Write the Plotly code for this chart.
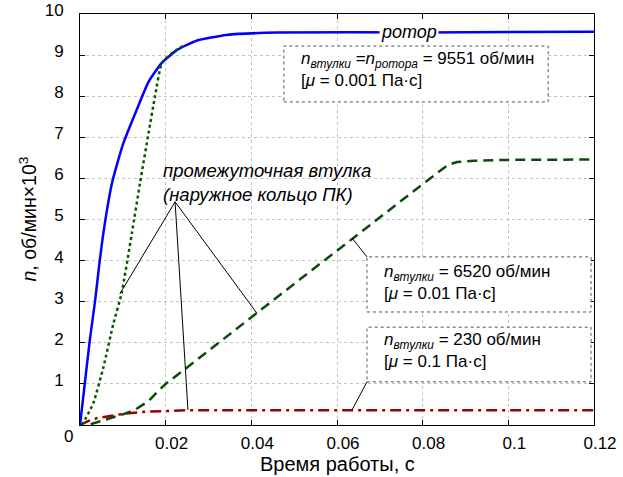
import plotly.graph_objects as go

# Rotor speed (x10^3 rpm) vs running time (s)
rotor_t = [0, 0.0005, 0.001, 0.0023, 0.0035, 0.0045, 0.0055, 0.0075, 0.0101, 0.0132,
           0.016, 0.019, 0.0226, 0.0272, 0.0342, 0.046, 0.08, 0.12]
rotor_n = [0, 0.45, 0.9, 2.07, 3.0, 3.9, 4.7, 5.9, 6.85, 7.66,
           8.35, 8.8, 9.12, 9.35, 9.49, 9.55, 9.55, 9.57]

# Intermediate sleeve, mu = 0.001 Pa*s (catches up with the rotor)
sleeve1_t = [0.0005, 0.0031, 0.0055, 0.0078, 0.0097, 0.0121, 0.014, 0.016, 0.0175, 0.0191, 0.0215, 0.0245]
sleeve1_n = [0, 0.53, 1.42, 2.47, 3.2, 4.66, 5.88, 7.1, 7.99, 8.8, 9.05, 9.25]

# Intermediate sleeve, mu = 0.01 Pa*s
sleeve2_t = [0.0025, 0.005, 0.01, 0.013, 0.016, 0.018, 0.02, 0.025, 0.03, 0.035, 0.04, 0.045,
             0.05, 0.055, 0.06, 0.065, 0.07, 0.075, 0.08, 0.084, 0.086, 0.088, 0.092, 0.1, 0.12]
sleeve2_n = [0.02, 0.1, 0.26, 0.38, 0.58, 0.8, 1.0, 1.4, 1.81, 2.22, 2.62, 3.03,
             3.43, 3.84, 4.24, 4.65, 5.05, 5.46, 5.86, 6.18, 6.33, 6.4, 6.43, 6.45, 6.46]

# Intermediate sleeve, mu = 0.1 Pa*s
sleeve3_t = [0, 0.002, 0.004, 0.007, 0.01, 0.015, 0.02, 0.025, 0.12]
sleeve3_n = [0, 0.1, 0.17, 0.22, 0.27, 0.32, 0.34, 0.36, 0.36]

x_ticks = [0.02, 0.04, 0.06, 0.08, 0.1, 0.12]
x_tick_text = ["0.02", "0.04", "0.06", "0.08", "0.1", "0.12"]
y_ticks = [1, 2, 3, 4, 5, 6, 7, 8, 9, 10]

FONT = "Liberation Sans, Arial, sans-serif"

fig = go.Figure()
fig.add_trace(go.Scatter(x=sleeve3_t, y=sleeve3_n, mode="lines",
                         line=dict(color="#990000", width=2.5, dash="11px,5px,3px,5px")))
fig.add_trace(go.Scatter(x=sleeve2_t, y=sleeve2_n, mode="lines",
                         line=dict(color="#0b4a0b", width=2.5, dash="10px,6px")))
fig.add_trace(go.Scatter(x=rotor_t, y=rotor_n, mode="lines",
                         line=dict(color="#0000ff", width=2.5, shape="spline", smoothing=0.5)))
fig.add_trace(go.Scatter(x=sleeve1_t, y=sleeve1_n, mode="lines",
                         line=dict(color="#005a00", width=2.5, dash="dot",
                                   shape="spline", smoothing=0.5)))

# Info boxes with dotted borders
boxes = [
    (0.0476, 0.1093, 7.86, 9.22),
    (0.0670, 0.1193, 2.75, 4.09),
    (0.0670, 0.1193, 1.05, 2.38),
]
for x0, x1, y0, y1 in boxes:
    fig.add_shape(type="rect", xref="x", yref="y", x0=x0, x1=x1, y0=y0, y1=y1,
                  line=dict(color="#555555", width=1, dash="dot"),
                  fillcolor="white", layer="above")

# Leader lines
leaders = [
    (0.0670, 4.09, 0.0635, 4.55),
    (0.0670, 1.05, 0.0635, 0.365),
    (0.0222, 5.43, 0.0093, 3.19),
    (0.0222, 5.43, 0.0252, 0.365),
    (0.0222, 5.43, 0.0413, 2.72),
]
for x0, y0, x1, y1 in leaders:
    fig.add_shape(type="line", xref="x", yref="y", x0=x0, y0=y0, x1=x1, y1=y1,
                  line=dict(color="black", width=1), layer="above")

ann_font = dict(family=FONT, size=17, color="black")
fig.add_annotation(x=0.0511, y=8.64, xref="x", yref="y", xanchor="left", yanchor="middle",
                   text="<i>n</i><sub><i>втулки</i></sub> =<i>n</i><sub><i>ротора</i></sub> = 9551 об/мин<br>[<i>μ</i> = 0.001 Па·с]",
                   showarrow=False, align="left", font=ann_font)
fig.add_annotation(x=0.0705, y=3.47, xref="x", yref="y", xanchor="left", yanchor="middle",
                   text="<i>n</i><sub><i>втулки</i></sub> = 6520 об/мин<br>[<i>μ</i> = 0.01 Па·с]",
                   showarrow=False, align="left", font=ann_font)
fig.add_annotation(x=0.0705, y=1.82, xref="x", yref="y", xanchor="left", yanchor="middle",
                   text="<i>n</i><sub><i>втулки</i></sub> = 230 об/мин<br>[<i>μ</i> = 0.1 Па·с]",
                   showarrow=False, align="left", font=ann_font)
fig.add_annotation(x=0.0768, y=9.55, xref="x", yref="y", xanchor="center", yanchor="middle",
                   text="<i>ротор</i>", showarrow=False, bgcolor="white",
                   font=dict(family=FONT, size=18, color="black"))
fig.add_annotation(x=0.0188, y=5.9, xref="x", yref="y", xanchor="left", yanchor="middle",
                   text="<i>промежуточная втулка</i><br><i>(наружное кольцо ПК)</i>",
                   showarrow=False, align="left",
                   font=dict(family=FONT, size=18.5, color="black"))
fig.add_annotation(x=0, y=0, xref="x", yref="y", xanchor="center", yanchor="middle",
                   xshift=-12, yshift=-11, text="0", showarrow=False,
                   font=dict(family=FONT, size=17, color="black"))

# Axis titles
fig.add_annotation(x=0.5, y=0, xref="paper", yref="paper", xanchor="center", yanchor="bottom",
                   yshift=-52, text="Время работы, с", showarrow=False,
                   font=dict(family=FONT, size=20, color="black"))
fig.add_annotation(x=0, y=0.5, xref="paper", yref="paper", xanchor="center", yanchor="middle",
                   xshift=-53, textangle=-90, text="<i>n</i>, об/мин×10<sup>3</sup>",
                   showarrow=False, font=dict(family=FONT, size=19.5, color="black"))

axis_common = dict(showline=True, linecolor="black", linewidth=1, mirror="ticks",
                   ticks="inside", ticklen=5, tickcolor="black", automargin=False,
                   showgrid=True, gridcolor="#c4c4c4", griddash="dot", gridwidth=1,
                   zeroline=False, tickfont=dict(family=FONT, size=17, color="black"))

fig.update_xaxes(range=[0, 0.12], tickvals=x_ticks, ticktext=x_tick_text,
                 ticklabelshift=6, ticklabelstandoff=3, **axis_common)
fig.update_yaxes(range=[0, 10], tickvals=y_ticks, ticklabelshift=-4, ticklabelstandoff=12,
                 **axis_common)

fig.update_layout(width=623, height=477, showlegend=False,
                  paper_bgcolor="white", plot_bgcolor="white",
                  margin=dict(l=80, r=29, t=14, b=52))

fig.write_html("out.html")
